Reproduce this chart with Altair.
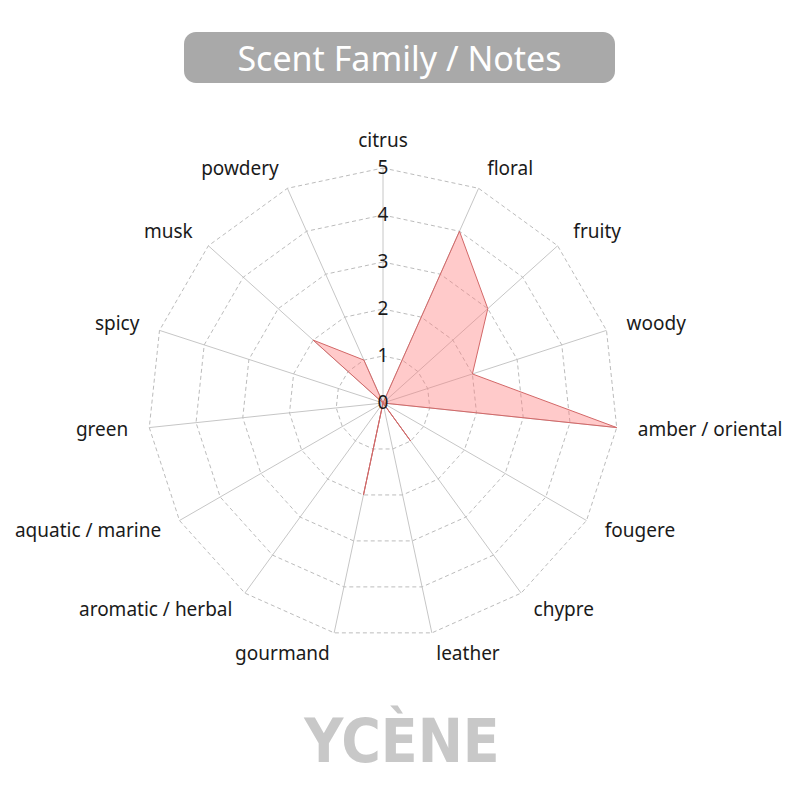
import numpy as np
import pandas as pd
import altair as alt

# ---- data ----
categories = ["citrus", "floral", "fruity", "woody", "amber / oriental", "fougere",
              "chypre", "leather", "gourmand", "aromatic / herbal", "aquatic / marine",
              "green", "spicy", "musk", "powdery"]
values = [0, 4, 3, 2, 5, 0, 1, 0, 2, 0, 0, 0, 0, 2, 1]
levels = [1, 2, 3, 4, 5]
tick_labels = ["0", "1", "2", "3", "4", "5"]
r_max = 5
title_text = "Scent Family / Notes"
brand_text = "YCÈNE"

FONT = "Noto Sans"
N = len(categories)
ang = np.deg2rad(np.arange(N) * 360.0 / N)
s, c = np.sin(ang), np.cos(ang)

data_df = pd.DataFrame({"idx": np.arange(N), "category": categories, "value": values,
                        "x": np.array(values) * s, "y": np.array(values) * c})

grid_rows = []
for lv in levels:
    for i in range(N):
        grid_rows.append({"level": lv, "idx": i, "x": lv * s[i], "y": lv * c[i]})
grid_df = pd.DataFrame(grid_rows)

spoke_df = pd.DataFrame({"x": np.zeros(N), "y": np.zeros(N), "x2": r_max * s, "y2": r_max * c})

lab_r = r_max * 1.09
lab_df = pd.DataFrame({"category": categories, "x": lab_r * s, "y": lab_r * c,
                       "side": np.where(s > 0.01, "left", np.where(s < -0.01, "right", "center"))})

tick_df = pd.DataFrame({"x": 0.0, "y": np.arange(len(tick_labels)), "label": tick_labels})

xs = alt.Scale(domain=[-r_max, r_max], nice=False, zero=False)
ys = alt.Scale(domain=[-r_max, r_max], nice=False, zero=False)
X = alt.X("x:Q", scale=xs, axis=None)
Y = alt.Y("y:Q", scale=ys, axis=None)

spokes = alt.Chart(spoke_df).mark_rule(color="#c6c6c6", strokeWidth=1).encode(
    x=X, y=Y, x2="x2:Q", y2="y2:Q")

grid = alt.Chart(grid_df).mark_line(interpolate="linear-closed", color="#bcbcbc",
                                    strokeDash=[4, 3], strokeWidth=1).encode(
    x=X, y=Y, detail="level:N", order="idx:Q")

poly = alt.Chart(data_df).mark_line(interpolate="linear-closed", fill="#ff7a7a",
                                    fillOpacity=0.4, stroke="#d36868", strokeWidth=1).encode(
    x=X, y=Y, order="idx:Q")

lab_left = alt.Chart(lab_df).transform_filter(alt.datum.side == "left").mark_text(
    align="left", baseline="middle", fontSize=19, font=FONT, color="#1a1a1a").encode(
    x=X, y=Y, text="category:N")
lab_right = alt.Chart(lab_df).transform_filter(alt.datum.side == "right").mark_text(
    align="right", baseline="middle", fontSize=19, font=FONT, color="#1a1a1a").encode(
    x=X, y=Y, text="category:N")
lab_center = alt.Chart(lab_df).transform_filter(alt.datum.side == "center").mark_text(
    align="center", baseline="alphabetic", fontSize=19, font=FONT, color="#1a1a1a").encode(
    x=X, y=Y, text="category:N")

ticks = alt.Chart(tick_df).mark_text(align="center", baseline="middle", fontSize=19,
                                     font=FONT, color="#1a1a1a").encode(
    x=X, y=Y, text="label:N")

deco = pd.DataFrame({"t": [title_text]})
title_box = alt.Chart(deco).mark_rect(color="#a9a9a9", cornerRadius=12).encode(
    x=alt.value(36), x2=alt.value(467), y=alt.value(-136), y2=alt.value(-85))
title = alt.Chart(deco).mark_text(align="center", baseline="alphabetic", fontSize=34,
                                  font=FONT, color="#ffffff").encode(
    x=alt.value(251.5), y=alt.value(-97.5), text="t:N")

brand = alt.Chart(pd.DataFrame({"t": [brand_text]})).mark_text(
    align="center", baseline="alphabetic", fontSize=60, fontWeight="bold",
    font="DejaVu Sans Condensed, Liberation Sans Narrow, sans-serif",
    color="#c8c8c8").encode(x=alt.value(254), y=alt.value(594), text="t:N")

chart = alt.layer(spokes, grid, poly, lab_left, lab_right, lab_center, ticks,
                  title_box, title, brand).properties(
    width=470, height=470,
    padding={"left": 140, "top": 160, "right": 168, "bottom": 150},
    autosize=alt.AutoSizeParams(type="none"),
    background="#ffffff",
).configure_view(strokeWidth=0)

chart.save("out.html", embed_options={"renderer": "svg", "actions": False})
